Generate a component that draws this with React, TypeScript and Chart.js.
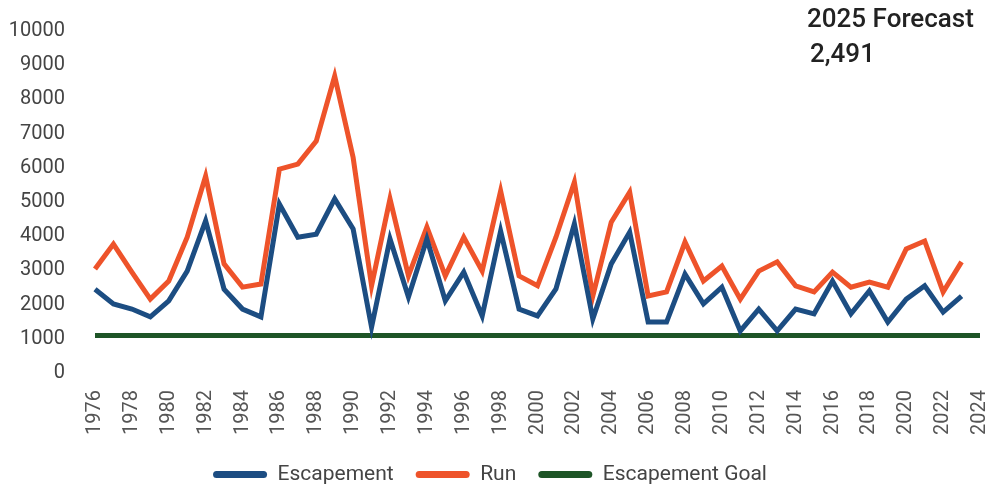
import React, { useEffect, useRef } from "react";
import { Chart, registerables } from "chart.js";

Chart.register(...registerables);

const years: string[] = [];
for (let y = 1976; y <= 2024; y++) years.push(String(y));

const escapement = [
  2450, 2020, 1870, 1640, 2110, 2980, 4450, 2450, 1870, 1640,
  4940, 3970, 4060, 5090, 4210, 1340, 3920, 2220, 3920, 2110,
  2950, 1670, 4150, 1870, 1670, 2460, 4360, 1580, 3190, 4120,
  1490, 1490, 2890, 2020, 2510, 1230, 1870, 1230, 1870, 1730,
  2690, 1730, 2400, 1490, 2160, 2550, 1780, 2250,
];

const run = [
  3040, 3770, 2950, 2160, 2690, 3970, 5760, 3190, 2510, 2600,
  5960, 6110, 6780, 8680, 6300, 2550, 5090, 2840, 4270, 2840,
  3970, 2980, 5320, 2840, 2550, 3970, 5580, 2250, 4410, 5290,
  2250, 2370, 3830, 2690, 3130, 2160, 2980, 3250, 2550, 2370,
  2950, 2510, 2660, 2510, 3630, 3860, 2370, 3250,
];

const goal = years.map(() => 1100);

const forecastTitle = "2025 Forecast";
const forecastValue = "2,491";

const BLUE = "#1c4d82";
const ORANGE = "#ee532a";
const GREEN = "#1e5527";

export default function App() {
  const ref = useRef<HTMLCanvasElement | null>(null);

  useEffect(() => {
    if (!ref.current) return;
    const chart = new Chart(ref.current, {
      type: "line",
      data: {
        labels: years,
        datasets: [
          {
            label: "Escapement",
            data: escapement,
            borderColor: BLUE,
            backgroundColor: BLUE,
            borderWidth: 5,
            pointRadius: 0,
            tension: 0,
          },
          {
            label: "Run",
            data: run,
            borderColor: ORANGE,
            backgroundColor: ORANGE,
            borderWidth: 5,
            pointRadius: 0,
            tension: 0,
          },
          {
            label: "Escapement Goal",
            data: goal,
            borderColor: GREEN,
            backgroundColor: GREEN,
            borderWidth: 5,
            pointRadius: 0,
            tension: 0,
          },
        ],
      },
      options: {
        animation: false,
        responsive: false,
        layout: { padding: { top: 31, right: 9, bottom: -6, left: 0 } },
        plugins: {
          tooltip: { enabled: false },
          legend: {
            position: "bottom",
            labels: {
              boxWidth: 54,
              boxHeight: 7,
              useBorderRadius: true,
              borderRadius: 3.5,
              padding: 22,
              color: "#444",
              font: { family: "Roboto, sans-serif", size: 21 },
              generateLabels: (c: any) =>
                Chart.defaults.plugins.legend.labels
                  .generateLabels(c)
                  .map((l: any) => ({ ...l, lineWidth: 0 })),
            },
          },
        },
        scales: {
          x: {
            grid: { display: false, drawTicks: false },
            border: { display: false },
            afterFit: (s: any) => {
              s.paddingRight = 0;
              s.paddingLeft = 0;
              s.height = 69;
            },
            ticks: {
              autoSkip: false,
              maxRotation: 90,
              minRotation: 90,
              padding: 17,
              color: "#555",
              font: { family: "Roboto, sans-serif", size: 20 },
              callback: (_v: any, i: number) => (i % 2 === 0 ? years[i] : ""),
            },
          },
          y: {
            min: 0,
            max: 10000,
            grid: { display: false, drawTicks: false },
            border: { display: false },
            afterFit: (s: any) => {
              s.width = 95;
              s.paddingTop = 0;
              s.paddingBottom = 0;
            },
            ticks: {
              stepSize: 1000,
              padding: 30,
              color: "#444",
              font: { family: "Roboto, sans-serif", size: 20 },
              callback: (v: any) => String(v),
            },
          },
        },
      },
    });
    return () => chart.destroy();
  }, []);

  return (
    <div style={{ position: "absolute", left: 0, top: 0, width: 989, height: 489, background: "#fff", overflow: "hidden" }}>
      <canvas ref={ref} width={989} height={489} style={{ display: "block" }} />
      <div
        style={{
          position: "absolute",
          left: 807,
          top: 5,
          fontFamily: "Roboto, sans-serif",
          fontWeight: 500,
          fontSize: 26,
          color: "#222",
          lineHeight: "26px",
          whiteSpace: "nowrap",
        }}
      >
        {forecastTitle}
      </div>
      <div
        style={{
          position: "absolute",
          left: 810,
          top: 40,
          fontFamily: "Roboto, sans-serif",
          fontWeight: 500,
          fontSize: 26,
          color: "#222",
          lineHeight: "26px",
          whiteSpace: "nowrap",
        }}
      >
        {forecastValue}
      </div>
    </div>
  );
}
